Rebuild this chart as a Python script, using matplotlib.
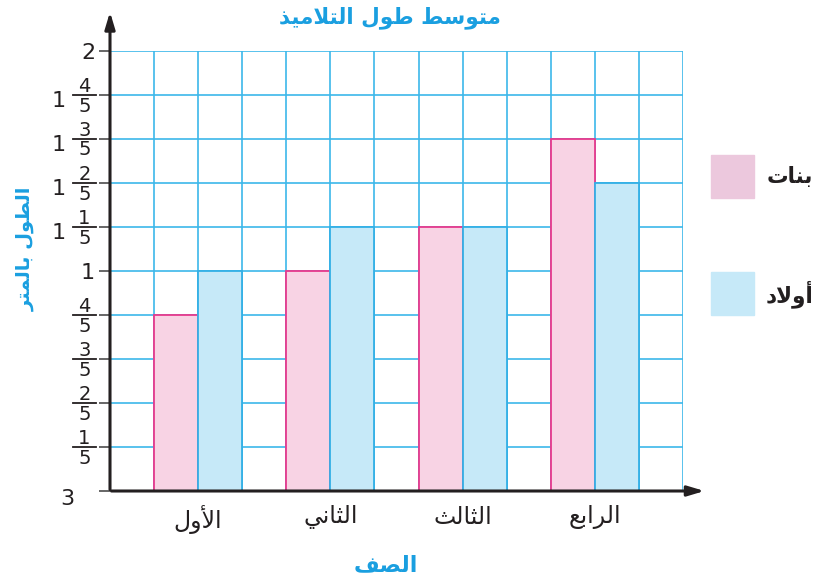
import matplotlib
matplotlib.use("Agg")
import matplotlib.pyplot as plt
from matplotlib.patches import Rectangle
from matplotlib.lines import Line2D
from matplotlib.transforms import blended_transform_factory

# data (heights in metres)
grades = ["الأول", "الثاني", "الثالث", "الرابع"]
girls = [4/5, 1, 1 + 1/5, 1 + 3/5]
boys = [1, 1 + 1/5, 1 + 1/5, 1 + 2/5]
series_names = ["بنات", "أولاد"]
ytick_vals = [0, 0.2, 0.4, 0.6, 0.8, 1, 1.2, 1.4, 1.6, 1.8, 2]
# mixed-number tick labels: whole part, numerator, denominator
ytick_whole = ["3", "", "", "", "", "1", "1", "1", "1", "1", "2"]
ytick_num = ["", "1", "2", "3", "4", "", "1", "2", "3", "4", ""]
ytick_den = ["", "5", "5", "5", "5", "", "5", "5", "5", "5", ""]
title = "متوسط طول التلاميذ"
ylabel = "الطول بالمتر"
xlabel = "الصف"

# --- minimal arabic shaping (matplotlib has no bidi / joining) ---
FORMS = {
    'ا': ('\uFE8D', '\uFE8E'), 'أ': ('\uFE83', '\uFE84'),
    'د': ('\uFEA9', '\uFEAA'), 'ذ': ('\uFEAB', '\uFEAC'),
    'ر': ('\uFEAD', '\uFEAE'), 'و': ('\uFEED', '\uFEEE'),
    'ب': ('\uFE8F', '\uFE90', '\uFE91', '\uFE92'),
    'ت': ('\uFE95', '\uFE96', '\uFE97', '\uFE98'),
    'ث': ('\uFE99', '\uFE9A', '\uFE9B', '\uFE9C'),
    'س': ('\uFEB1', '\uFEB2', '\uFEB3', '\uFEB4'),
    'ص': ('\uFEB9', '\uFEBA', '\uFEBB', '\uFEBC'),
    'ط': ('\uFEC1', '\uFEC2', '\uFEC3', '\uFEC4'),
    'ع': ('\uFEC9', '\uFECA', '\uFECB', '\uFECC'),
    'ف': ('\uFED1', '\uFED2', '\uFED3', '\uFED4'),
    'ل': ('\uFEDD', '\uFEDE', '\uFEDF', '\uFEE0'),
    'م': ('\uFEE1', '\uFEE2', '\uFEE3', '\uFEE4'),
    'ن': ('\uFEE5', '\uFEE6', '\uFEE7', '\uFEE8'),
    'ي': ('\uFEF1', '\uFEF2', '\uFEF3', '\uFEF4'),
}
LAMALEF = {'ا': ('\uFEFB', '\uFEFC'), 'أ': ('\uFEF7', '\uFEF8')}


def shape(s):
    out = []
    i = 0
    n = len(s)
    while i < n:
        c = s[i]
        if c not in FORMS:
            out.append(c)
            i += 1
            continue
        prev = s[i-1] if i > 0 else None
        jp = prev in FORMS and len(FORMS[prev]) == 4
        if c == 'ل' and i + 1 < n and s[i+1] in LAMALEF:
            out.append(LAMALEF[s[i+1]][1 if jp else 0])
            i += 2
            continue
        jn = i + 1 < n and s[i+1] in FORMS
        f = FORMS[c]
        if len(f) == 2:
            out.append(f[1 if jp else 0])
        else:
            out.append(f[(3 if jn else 1) if jp else (2 if jn else 0)])
        i += 1
    return ''.join(reversed(out))


plt.rcParams['font.family'] = ['DejaVu Sans']

W, H = 818, 581
fig = plt.figure(figsize=(W/100, H/100), dpi=100)
# axes box = grid area (13 columns x 10 rows of 44px)
ax = fig.add_axes([110/W, 1 - 491/H, 573/W, 440/H])
ax.set_xlim(0, 13)
ax.set_ylim(0, 2)

grid_c = "#3cb8ea"
pink_fill, pink_edge = "#f8d3e4", "#e8388c"
blue_fill, blue_edge = "#c6e9f8", "#33b0e6"
ink = "#231f20"

ax.vlines(range(1, 14), 0, 2, color=grid_c, lw=1.2, zorder=1)
ax.hlines(ytick_vals[1:], 0, 13, color=grid_c, lw=1.2, zorder=1)

centers = [2 + 3*i for i in range(len(grades))]
ax.bar([c - 0.5 for c in centers], girls, width=1, color=pink_fill,
       edgecolor=pink_edge, lw=1.3, zorder=2)
ax.bar([c + 0.5 for c in centers], boys, width=1, color=blue_fill,
       edgecolor=blue_edge, lw=1.3, zorder=2)

for sp in ax.spines.values():
    sp.set_visible(False)

# axes with arrows
arrow = dict(arrowstyle='-|>,head_length=1.0,head_width=0.3', color=ink, lw=2.2)
ax.annotate('', xy=(13.55, 0), xytext=(-0.03, 0), annotation_clip=False,
            arrowprops=arrow, zorder=5)
ax.annotate('', xy=(0, 2.19), xytext=(0, -0.006), annotation_clip=False,
            arrowprops=arrow, zorder=5)

ax.set_yticks(ytick_vals)
ax.set_yticklabels([])
ax.tick_params(axis='y', length=8, width=1.4, color='#666666')

# mixed-number tick labels drawn by hand (x in figure px, y in data)
tr = blended_transform_factory(fig.transFigure, ax.transData)
px = 1 / W
dy = 0.2 / 44  # data units per pixel
big = dict(fontsize=16, color=ink, va='baseline', ha='center')
small = dict(fontsize=14, color=ink, va='baseline', ha='center')
for v, w, nu, de in zip(ytick_vals, ytick_whole, ytick_num, ytick_den):
    if nu:
        fig.add_artist(Line2D([73*px, 96*px], [v, v], transform=tr,
                              color=ink, lw=1.3))
        fig.text(84.5*px, v + 2.5*dy, nu, transform=tr, **small)
        fig.text(84.5*px, v - 16.5*dy, de, transform=tr, **small)
        if w:
            fig.text(58.5*px, v - 12*dy, w, transform=tr, **big)
    elif v == 0:
        fig.text(67*px, v - 14*dy, w, transform=tr, **big)
    else:
        fig.text(88*px, v - 8*dy, w, transform=tr, **big)

ax.set_xticks(centers)
ax.set_xticklabels([shape(g) for g in grades], fontsize=17, color=ink)
ax.tick_params(axis='x', length=0, pad=10)

blue_txt = "#1a9fe0"
fig.text(390/W, 1 - 18/H, shape(title), ha='center', va='center',
         fontsize=15.5, fontweight='bold', color=blue_txt)
fig.text(25/W, 1 - 249/H, shape(ylabel), ha='center', va='center',
         rotation=90, fontsize=14, fontweight='bold', color=blue_txt)
fig.text(386/W, 1 - 565/H, shape(xlabel), ha='center', va='center',
         fontsize=16, fontweight='bold', color=blue_txt)

# legend squares
for (name, col, ytop) in zip(series_names, ["#ecc8dd", blue_fill], [155, 272]):
    fig.patches.append(Rectangle((711/W, 1 - (ytop + 43)/H), 43/W, 43/H,
                                 transform=fig.transFigure, color=col))
    fig.text(813/W, 1 - (ytop + 22)/H, shape(name), ha='right', va='center',
             fontsize=15.5, fontweight='bold', color=ink)

fig.savefig("out.png", dpi=100)
